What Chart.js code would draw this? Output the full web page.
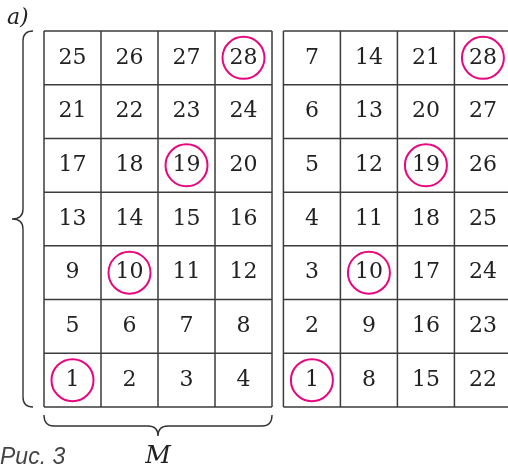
<!DOCTYPE html>
<html>
<head>
<meta charset="utf-8">
<script src="https://cdn.jsdelivr.net/npm/chart.js@4.4.1/dist/chart.umd.min.js"></script>
<style>
  html, body { margin: 0; padding: 0; background: #fff; }
  canvas { display: block; }
</style>
</head>
<body>
<canvas id="c" width="508" height="468"></canvas>
<script>
// Zahlen der linken Tabelle (M), Zeilen von oben nach unten
const leftRows = [
  [25, 26, 27, 28],
  [21, 22, 23, 24],
  [17, 18, 19, 20],
  [13, 14, 15, 16],
  [9, 10, 11, 12],
  [5, 6, 7, 8],
  [1, 2, 3, 4],
];
// Rechte Tabelle, gleiche Reihenfolge
const rightRows = [
  [7, 14, 21, 28],
  [6, 13, 20, 27],
  [5, 12, 19, 26],
  [4, 11, 18, 25],
  [3, 10, 17, 24],
  [2, 9, 16, 23],
  [1, 8, 15, 22],
];
// eingekreiste Zahlen
const circled = [1, 10, 19, 28];

const ROWS = 7, COLS = 4;
const RIGHT_OFFSET = 4.2; // Spalten-Versatz der rechten Tabelle
const MAGENTA = '#e6087e';
const INK = '#222';
const SERIF = '"DejaVu Serif", "Liberation Serif", serif';

// Zellen -> Punkte in Zellmitte (x = Spalte, y = Zeile von unten)
function toPoints(rows, offset) {
  const pts = [];
  rows.forEach((row, r) => {
    row.forEach((v, c) => {
      pts.push({ x: offset + c + 0.5, y: ROWS - r - 0.5, v });
    });
  });
  return pts;
}

const gridPlugin = {
  id: 'grid',
  beforeDatasetsDraw(chart) {
    const { ctx, scales: { x, y } } = chart;
    ctx.save();
    ctx.strokeStyle = '#3c3c3c';
    ctx.lineWidth = 1.5;
    [0, RIGHT_OFFSET].forEach((off) => {
      ctx.beginPath();
      for (let c = 0; c <= COLS; c++) {
        const px = x.getPixelForValue(off + c);
        ctx.moveTo(px, y.getPixelForValue(0));
        ctx.lineTo(px, y.getPixelForValue(ROWS));
      }
      for (let r = 0; r <= ROWS; r++) {
        const py = y.getPixelForValue(r);
        ctx.moveTo(x.getPixelForValue(off), py);
        ctx.lineTo(x.getPixelForValue(off + COLS), py);
      }
      ctx.stroke();
    });
    ctx.restore();
  },
};

const labelPlugin = {
  id: 'labels',
  afterDatasetsDraw(chart) {
    const { ctx } = chart;
    ctx.save();
    ctx.fillStyle = INK;
    ctx.font = '22px ' + SERIF;
    ctx.textAlign = 'center';
    ctx.textBaseline = 'middle';
    chart.data.datasets.forEach((ds, i) => {
      const meta = chart.getDatasetMeta(i);
      meta.data.forEach((el, j) => {
        ctx.fillText(String(ds.data[j].v), el.x, el.y);
      });
    });
    ctx.restore();
  },
  afterDraw(chart) {
    const { ctx, scales: { x, y } } = chart;
    const top = y.getPixelForValue(ROWS);
    const bot = y.getPixelForValue(0);
    const l = x.getPixelForValue(0);
    const r = x.getPixelForValue(COLS);
    const mid = (l + r) / 2;
    ctx.save();
    ctx.strokeStyle = '#333';
    ctx.lineWidth = 1.4;
    // linke Klammer
    const bx = 23, tip = 12, cy = (top + bot) / 2;
    ctx.beginPath();
    ctx.moveTo(bx + 10, top);
    ctx.quadraticCurveTo(bx, top, bx, top + 10);
    ctx.lineTo(bx, cy - 10);
    ctx.quadraticCurveTo(bx, cy, tip, cy);
    ctx.quadraticCurveTo(bx, cy, bx, cy + 10);
    ctx.lineTo(bx, bot - 10);
    ctx.quadraticCurveTo(bx, bot, bx + 10, bot);
    ctx.stroke();
    // untere Klammer
    const by = bot + 19, tipY = bot + 29;
    ctx.beginPath();
    ctx.moveTo(l, bot + 8);
    ctx.quadraticCurveTo(l, by, l + 10, by);
    ctx.lineTo(mid - 10, by);
    ctx.quadraticCurveTo(mid, by, mid, tipY);
    ctx.quadraticCurveTo(mid, by, mid + 10, by);
    ctx.lineTo(r - 10, by);
    ctx.quadraticCurveTo(r, by, r, bot + 8);
    ctx.stroke();
    // Beschriftungen
    ctx.fillStyle = INK;
    ctx.textBaseline = 'alphabetic';
    ctx.font = 'italic 25px ' + SERIF;
    ctx.textAlign = 'center';
    ctx.fillText('M', mid, 463);
    ctx.textAlign = 'left';
    ctx.font = 'italic 22px ' + SERIF;
    ctx.fillText('a)', 7, 24);
    ctx.fillStyle = '#444';
    ctx.font = 'italic 23px "Liberation Sans", "DejaVu Sans", sans-serif';
    ctx.fillText('Рис. 3', 0, 464);
    ctx.restore();
  },
};

const pointStyle = {
  showLine: false,
  pointRadius: (ctx) => (ctx.raw && circled.includes(ctx.raw.v) ? 21 : 0),
  pointHoverRadius: 0,
  pointBorderWidth: 2,
  pointBorderColor: MAGENTA,
  pointBackgroundColor: 'rgba(0,0,0,0)',
  clip: false,
};

new Chart(document.getElementById('c'), {
  type: 'scatter',
  data: {
    datasets: [
      { label: 'M', data: toPoints(leftRows, 0), ...pointStyle },
      { label: 'rechts', data: toPoints(rightRows, RIGHT_OFFSET), ...pointStyle },
    ],
  },
  options: {
    responsive: false,
    animation: false,
    layout: { autoPadding: false, padding: { left: 44, top: 31, right: 0, bottom: 61 } },
    scales: {
      x: { type: 'linear', min: 0, max: 8.14, display: false },
      y: { type: 'linear', min: 0, max: ROWS, display: false },
    },
    plugins: { legend: { display: false }, tooltip: { enabled: false } },
  },
  plugins: [gridPlugin, labelPlugin],
});
</script>
</body>
</html>
